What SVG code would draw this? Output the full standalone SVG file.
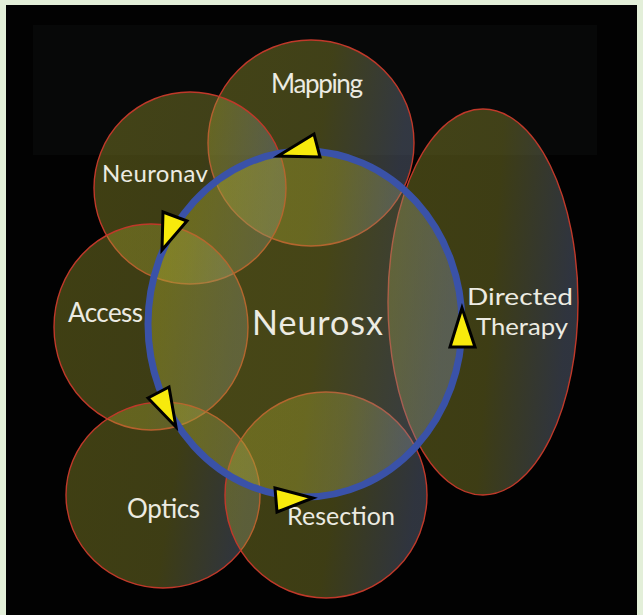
<svg xmlns="http://www.w3.org/2000/svg" width="643" height="615" viewBox="0 0 643 615">
  <defs>
    <linearGradient id="g" x1="0" y1="0" x2="1" y2="0.15">
      <stop offset="0" stop-color="#a9a830"/>
      <stop offset="0.6" stop-color="#a3a234"/>
      <stop offset="1" stop-color="#7d8aa6"/>
    </linearGradient>
    <style>
      .node { fill: url(#g); fill-opacity: 0.37; stroke: #c0392a; stroke-width: 1.4; }
      .ring { fill: url(#g); fill-opacity: 0.42; stroke: #3a52a8; stroke-width: 7; }
      .lbl { font-family: "Lato", "Open Sans", sans-serif; fill: #ecebe2; }
      .arr { fill: #f7ea0c; stroke: #000; stroke-width: 3; stroke-linejoin: miter; }
    </style>
  </defs>
  <rect x="0" y="0" width="643" height="615" fill="#e3efd9"/>
  <rect x="6" y="5" width="631" height="610" fill="#020202"/>
  <rect x="33" y="25" width="564" height="130" fill="#070808"/>

  <g id="mapping">
    <circle class="node" cx="311" cy="143" r="103"/>
    <text class="lbl" x="271" y="93" font-size="26" textLength="92">Mapping</text>
  </g>
  <g id="neuronav">
    <circle class="node" cx="190" cy="188" r="96"/>
    <text class="lbl" x="102" y="182" font-size="24" textLength="106">Neuronav</text>
  </g>
  <g id="access">
    <ellipse class="node" cx="151" cy="327" rx="97" ry="103"/>
    <text class="lbl" x="68" y="322" font-size="26" textLength="75">Access</text>
  </g>
  <g id="optics">
    <ellipse class="node" cx="163" cy="495" rx="97" ry="93"/>
    <text class="lbl" x="127" y="518" font-size="26" textLength="73">Optics</text>
  </g>
  <g id="resection">
    <ellipse class="node" cx="326" cy="495" rx="101" ry="103"/>
    <text class="lbl" x="287" y="525" font-size="25" textLength="108">Resection</text>
  </g>
  <g id="directed-therapy">
    <ellipse class="node" cx="483" cy="302" rx="95" ry="193"/>
    <text class="lbl" x="467" y="305" font-size="23" textLength="106" lengthAdjust="spacingAndGlyphs">Directed</text>
    <text class="lbl" x="476" y="335" font-size="23" textLength="92" lengthAdjust="spacingAndGlyphs">Therapy</text>
  </g>
  <g id="neurosx">
    <ellipse class="ring" cx="305" cy="324" rx="157" ry="173"/>
    <text class="lbl" x="252" y="335" font-size="34" textLength="131">Neurosx</text>
  </g>

  <g id="connectors">
    <polygon class="arr" points="278,156 314,134 320,157"/>
    <polygon class="arr" points="163,212 187,221 162,250"/>
    <polygon class="arr" points="148,398 169,387 176,427"/>
    <polygon class="arr" points="275,488 313,498 277,512"/>
    <polygon class="arr" points="462,308 475,347 450,347"/>
  </g>
</svg>
